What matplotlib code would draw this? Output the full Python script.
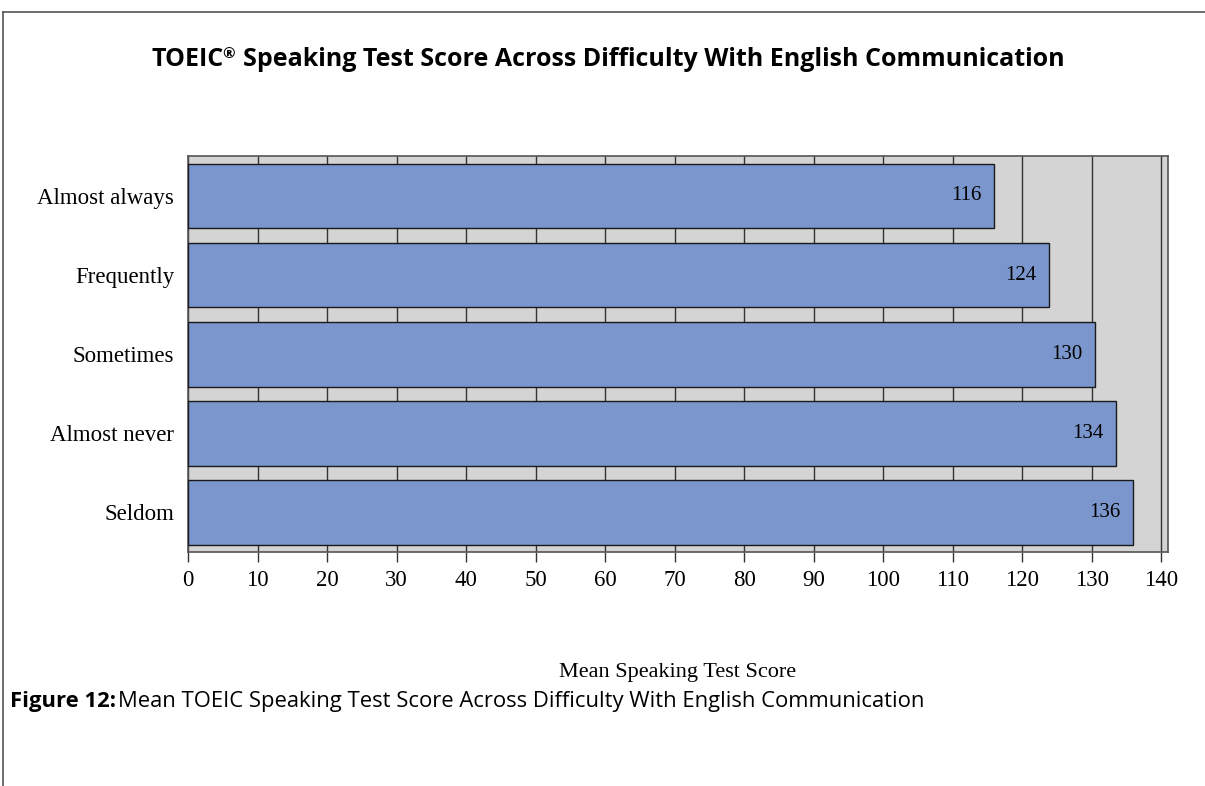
import matplotlib.pyplot as plt
from matplotlib.lines import Line2D

categories = ['Almost always', 'Frequently', 'Sometimes', 'Almost never', 'Seldom']
scores = [115.9, 123.8, 130.4, 133.5, 135.9]
score_labels = ['116', '124', '130', '134', '136']
xticks = list(range(0, 141, 10))

plt.rcParams['font.family'] = 'Liberation Serif'

fig = plt.figure(figsize=(12.05, 7.86), dpi=100)
ax = fig.add_axes([0.156, 0.298, 0.813, 0.503])
ax.set_facecolor('#d4d4d4')

ypos = list(range(len(categories)))
bars = ax.barh(ypos, scores, height=0.82, color='#7b96cc', edgecolor='#1a1a1a',
               linewidth=1.0, zorder=3)
for bar, lab in zip(bars, score_labels):
    ax.text(bar.get_width() - 1.8, bar.get_y() + bar.get_height() / 2, lab,
            ha='right', va='center', fontsize=15, zorder=4)

ax.set_ylim(len(categories) - 0.5, -0.5)
ax.set_xlim(0, 140.9)
ax.set_yticks(ypos)
ax.set_yticklabels(categories, fontsize=16.5)
ax.set_xticks(xticks)
ax.set_xticklabels([str(t) for t in xticks], fontsize=16.5)
ax.tick_params(axis='y', length=0, pad=10)
ax.tick_params(axis='x', length=7, width=1, color='#333333', pad=6)
ax.xaxis.grid(True, color='#333333', linewidth=1.0, zorder=1)
ax.set_axisbelow(True)
for s in ax.spines.values():
    s.set_color('#555555')
    s.set_linewidth(1.2)

ax.set_xlabel('Mean Speaking Test Score', fontsize=16, labelpad=52)

# title, with a raised registered mark
fig.text(0.126, 0.924, 'TOEIC', ha='left', va='center', fontsize=18,
         fontweight='bold', family='Open Sans')
fig.text(0.1845, 0.931, '\u00ae', ha='left', va='center', fontsize=11,
         fontweight='bold', family='Open Sans')
fig.text(0.2015, 0.924, 'Speaking Test Score Across Difficulty With English Communication',
         ha='left', va='center', fontsize=18, fontweight='bold', family='Open Sans')

fig.text(0.0085, 0.107, 'Figure 12:', ha='left', va='center', fontsize=15.8,
         fontweight='bold', family='Open Sans')
fig.text(0.098, 0.107, 'Mean TOEIC Speaking Test Score Across Difficulty With English Communication',
         ha='left', va='center', fontsize=15.8, family='Open Sans')

# page frame: top and left rules
fig.add_artist(Line2D([0.0025, 1.0], [0.985, 0.985], color='#555555', linewidth=1.2))
fig.add_artist(Line2D([0.0025, 0.0025], [0.0, 0.985], color='#555555', linewidth=1.2))

fig.savefig('out.png', dpi=100)
